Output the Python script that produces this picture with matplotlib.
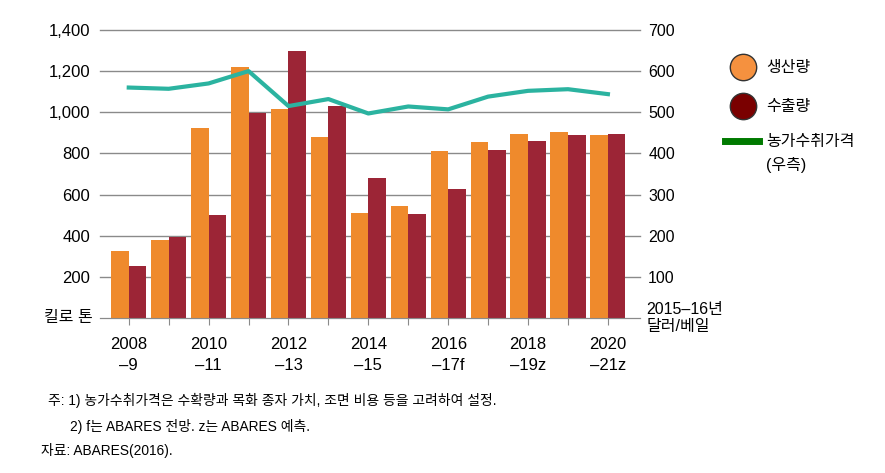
import numpy as np
import matplotlib.pyplot as plt
from matplotlib.lines import Line2D

plt.rcParams['font.family'] = ['Liberation Sans', 'Noto Sans CJK KR', 'DejaVu Sans']

years = ['2008\n–9', '2009\n–10', '2010\n–11', '2011\n–12', '2012\n–13', '2013\n–14', '2014\n–15',
         '2015\n–16', '2016\n–17f', '2017\n–18f', '2018\n–19z', '2019\n–20z', '2020\n–21z']
production = [325, 380, 925, 1222, 1016, 880, 510, 545, 810, 855, 895, 905, 890]
exports = [255, 395, 500, 995, 1300, 1030, 680, 505, 625, 815, 860, 890, 895]
price = [560, 557, 570, 600, 515, 532, 497, 514, 507, 538, 552, 556, 544]

left_ticks = [200, 400, 600, 800, 1000, 1200, 1400]
right_ticks = [100, 200, 300, 400, 500, 600, 700]

c_prod = '#ef8a2c'
c_exp = '#9c2536'
c_line = '#2bb3a0'
grid_c = '#8a8a8a'

fig = plt.figure(figsize=(8.85, 4.73), dpi=100)
ax = fig.add_axes([0.113, 0.3277, 0.610, 0.609])
ax2 = ax.twinx()

x = np.arange(len(years))
w = 0.44
ax.bar(x - w / 2, production, w, color=c_prod, zorder=3)
ax.bar(x + w / 2, exports, w, color=c_exp, zorder=3)
ax2.plot(x, price, color=c_line, lw=3, zorder=4)

ax.set_ylim(0, 1400)
ax2.set_ylim(0, 700)
ax.set_xlim(-0.72, 12.8)

ax.set_yticks(left_ticks)
ax.set_yticklabels([f'{v:,}' for v in left_ticks], fontsize=12)
ax2.set_yticks(right_ticks)
ax2.set_yticklabels([str(v) for v in right_ticks], fontsize=11.5)
ax.tick_params(axis='y', length=0, pad=7)
ax2.tick_params(axis='y', length=0, pad=6)
for v in left_ticks:
    ax.axhline(v, color=grid_c, lw=1, zorder=1, clip_on=False)

ax.set_xticks(x)
ax.set_xticklabels([lab if i % 2 == 0 else '' for i, lab in enumerate(years)],
                   fontsize=12, linespacing=1.45)
ax.tick_params(axis='x', length=5, color=grid_c, pad=9)

for a in (ax, ax2):
    for s in ('top', 'left', 'right'):
        a.spines[s].set_visible(False)
    a.spines['bottom'].set_color(grid_c)

ax.text(-0.013, 0, '킬로 톤', transform=ax.transAxes, ha='right', va='center', fontsize=11.5)
ax2.text(1.012, 0, '2015–16년\n달러/베일', transform=ax2.transAxes, ha='left', va='center',
         fontsize=11.5, linespacing=1.15)

# legend
fig.add_artist(Line2D([0.84], [1 - 67 / 473], marker='o', markersize=19,
                      markerfacecolor='#f5913f', markeredgecolor='#333333', transform=fig.transFigure))
fig.add_artist(Line2D([0.84], [1 - 106 / 473], marker='o', markersize=19,
                      markerfacecolor='#7a0000', markeredgecolor='#333333', transform=fig.transFigure))
fig.add_artist(Line2D([0.819, 0.858], [1 - 141 / 473] * 2, color='#007a00', lw=5,
                      transform=fig.transFigure))
fig.text(0.866, 1 - 67 / 473, '생산량', fontsize=11.5, va='center')
fig.text(0.866, 1 - 106 / 473, '수출량', fontsize=11.5, va='center')
fig.text(0.866, 1 - 141 / 473, '농가수취가격', fontsize=11.5, va='center')
fig.text(0.866, 1 - 165 / 473, '(우측)', fontsize=11.5, va='center')

# notes
fig.text(0.054, 1 - 400 / 473, '주: 1) 농가수취가격은 수확량과 목화 종자 가치, 조면 비용 등을 고려하여 설정.',
         fontsize=9.95, va='center')
fig.text(0.079, 1 - 426 / 473, '2) f는 ABARES 전망. z는 ABARES 예측.', fontsize=9.95, va='center')
fig.text(0.046, 1 - 450 / 473, '자료: ABARES(2016).', fontsize=9.95, va='center')

fig.savefig('out.png', dpi=100)
